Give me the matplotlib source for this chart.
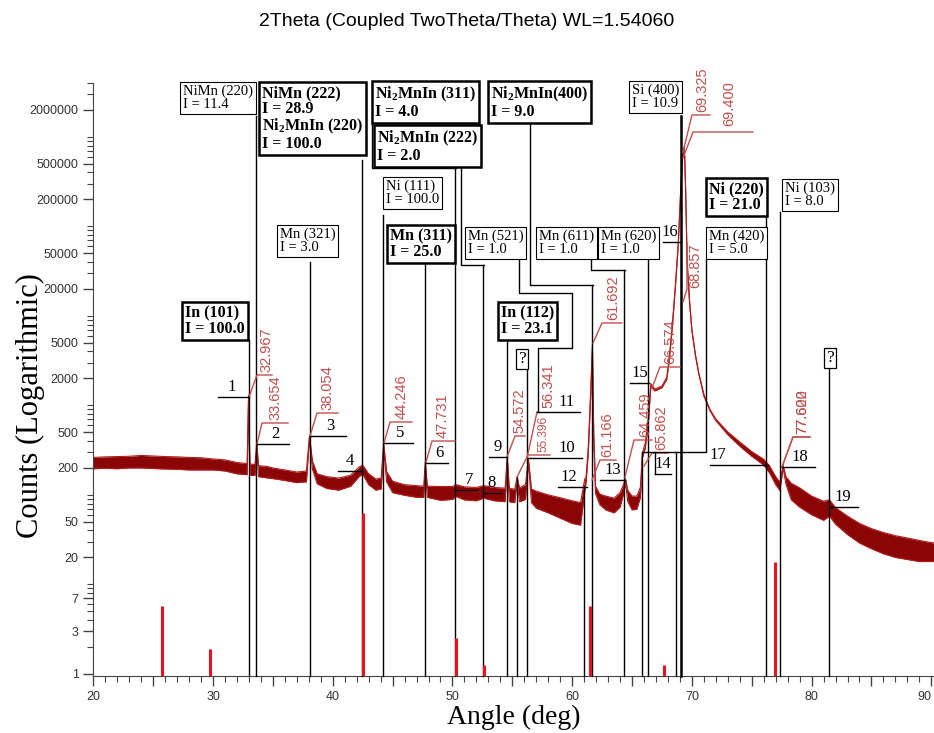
import matplotlib
matplotlib.use("Agg")
import matplotlib.pyplot as plt
from matplotlib.lines import Line2D
from matplotlib.ticker import FixedLocator, FixedFormatter, LogLocator, NullFormatter, MultipleLocator, FuncFormatter
from matplotlib.transforms import blended_transform_factory

# measured pattern, upper / lower edge of the noisy trace (2theta in deg, counts)
angle = [20.0, 21.0, 22.0, 23.0, 24.0, 25.0, 26.0, 27.0, 28.0, 29.0, 30.0, 31.0, 32.0, 32.85,
         32.967, 33.08, 33.5, 33.654, 33.8, 34.5, 35.0, 36.0, 37.0, 37.8, 38.054, 38.3, 38.7,
         39.5, 40.5, 41.5, 42.2, 42.5, 43.0, 43.6, 44.05, 44.246, 44.5, 45.0, 46.0, 47.0, 47.6,
         47.731, 47.9, 49.0, 50.0, 50.3, 51.0, 52.0, 52.6, 53.5, 54.4, 54.572, 54.75, 55.2,
         55.396, 55.6, 56.1, 56.341, 56.6, 57.0, 58.0, 59.0, 60.0, 60.7, 61.05, 61.166, 61.35,
         61.55, 61.692, 61.8, 61.95, 62.3, 62.8, 63.5, 64.0, 64.3, 64.459, 64.65, 65.0, 65.4,
         65.7, 65.862, 66.1, 66.35, 66.574, 66.9, 67.5, 67.9, 68.1, 68.35, 68.6, 68.857, 69.05,
         69.2, 69.325, 69.4, 69.5, 69.6, 69.8, 70.0, 70.3, 70.6, 71.0, 71.5, 72.0, 73.0, 74.0,
         75.0, 76.0, 76.5, 77.0, 77.35, 77.622, 77.85, 78.3, 79.0, 80.0, 81.0, 81.5, 82.0, 83.0,
         84.0, 85.0, 86.0, 87.0, 88.0, 89.0, 90.2]
counts_hi = [262, 266, 268, 270, 276, 272, 268, 266, 262, 260, 252, 246, 230, 224,
             1300, 222, 218, 380, 212, 208, 200, 190, 180, 185, 455, 240, 172,
             160, 154, 166, 205, 215, 172, 150, 155, 380, 182, 142, 130, 127, 125,
             235, 125, 124, 124, 130, 123, 121, 127, 121, 119, 267, 118, 116,
             157, 120, 130, 257, 116, 110, 100, 93, 86, 82, 150, 160, 350,
             1500, 4730, 500, 125, 102, 97, 92, 106, 132, 150, 112, 97, 97,
             122, 290, 380, 700, 1750, 1520, 1650, 2050, 3300, 7500, 20000, 62000, 230000,
             560000, 770000, 620000, 200000, 42000, 15000, 7000, 3650, 2220, 1330, 905, 705, 505, 390,
             305, 250, 210, 160, 138, 215, 160, 135, 120, 97, 85, 88, 72, 58,
             48, 42, 38, 35, 33, 31, 29]
counts_lo = [196, 198, 196, 200, 200, 197, 195, 193, 190, 190, 190, 185, 172, 168,
             1150, 165, 165, 330, 160, 155, 152, 145, 137, 140, 420, 195, 133,
             118, 113, 125, 160, 170, 130, 113, 117, 340, 140, 106, 99, 94, 94,
             200, 94, 87, 89, 96, 88, 86, 92, 86, 84, 240, 84, 82,
             140, 84, 89, 230, 82, 71, 63, 55, 48, 46, 110, 140, 300,
             1300, 4300, 400, 104, 78, 68, 63, 73, 104, 135, 84, 68, 69,
             94, 260, 330, 600, 1650, 1450, 1580, 1950, 3100, 7000, 19000, 60000, 220000,
             540000, 750000, 600000, 190000, 40000, 14500, 6800, 3550, 2180, 1270, 875, 675, 470, 350,
             270, 215, 175, 130, 112, 200, 133, 88, 73, 60, 52, 58, 47, 36,
             29, 25, 22, 20, 19, 18, 18]

# reference stick pattern (red bars)
stick_angle = [25.78, 29.78, 42.50, 50.28, 52.64, 61.47, 67.70, 76.95]
stick_counts = [5.7, 1.9, 63, 2.5, 1.25, 5.8, 1.25, 17.6]

# phase reference positions (black lines)
ref_angle = [32.97, 33.63, 38.06, 42.45, 44.22, 47.70, 50.20, 52.58, 54.52, 55.36, 56.20,
             61.00, 61.62, 64.33, 65.80, 66.37, 68.67, 69.10, 76.22, 77.37, 81.48]

y_ticks = [2000000, 500000, 200000, 50000, 20000, 5000, 2000, 500, 200, 50, 20, 7, 3, 1]
y_tick_labels = [str(v) for v in y_ticks]

W, H = 934, 733
AX_L, AX_R, AX_T, AX_B = 93.3, 933.7, 83.0, 676.0
RED = "#c0504d"

plt.rcParams["mathtext.fontset"] = "custom"
plt.rcParams["mathtext.rm"] = "Liberation Serif"
plt.rcParams["mathtext.it"] = "Liberation Serif:italic"
plt.rcParams["mathtext.bf"] = "Liberation Serif:bold"

fig = plt.figure(figsize=(W / 100, H / 100), dpi=100)
ax = fig.add_axes([AX_L / W, 1 - AX_B / H, (AX_R - AX_L) / W, (AX_B - AX_T) / H])
ax.set_yscale("log")
ax.set_xlim(20, 90.2)
ax.set_ylim(0.947, 4.0e6)


def P(px, py):
    return px / W, 1 - py / H


def fig_line(pts, color="black", lw=1.0, zorder=5):
    xs = [p[0] / W for p in pts]
    ys = [1 - p[1] / H for p in pts]
    fig.add_artist(Line2D(xs, ys, transform=fig.transFigure, color=color, lw=lw, zorder=zorder))


# trace
ax.fill_between(angle, counts_lo, counts_hi, color="#8a0606", lw=0, zorder=2)
ax.plot(angle, counts_hi, color="#b31b1b", lw=0.8, zorder=2)
ax.plot(angle, counts_lo, color="#b31b1b", lw=0.8, zorder=2)

# sticks
ax.vlines(stick_angle, 0.947, stick_counts, color="#e8121c", lw=2.2, zorder=4)

# reference lines, top end in pixels of the figure
ref_top = [340, 116, 262, 160, 215, 262, 168, 265, 337, 477, 368,
           487, 285, 270, 452, 259, 452, 116, 212, 212, 368]
blend = blended_transform_factory(ax.transData, ax.transAxes)
for a, top in zip(ref_angle, ref_top):
    lw = 1.8 if a == 69.10 else 1.0
    ax.plot([a, a], [0, (AX_B - top) / (AX_B - AX_T)], transform=blend, color="black",
            lw=lw, zorder=3, clip_on=False)

# elbow connectors from boxes
elbows = [
    [(372, 117), (372, 168), (455.7, 168)],
    [(461, 160), (461, 265), (484.3, 265)],
    [(530, 117), (530, 285), (592.7, 285)],
    [(591, 259), (591, 270), (625.3, 270)],
    [(705.5, 259), (705.5, 452), (643.3, 452)],
    [(519, 259), (519, 293), (572, 293), (572, 348), (538, 348), (538, 412)],
    [(655, 452), (655, 474)],
]
for pts in elbows:
    fig_line(pts)

# phase boxes: text, left, top, bold
boxes = [
    ("NiMn (220)\nI = 11.4", 180, 82, False),
    ("Mn (321)\nI = 3.0", 277, 225, False),
    ("Ni (111)\nI = 100.0", 383, 177, False),
    ("Mn (521)\nI = 1.0", 465, 227, False),
    ("Mn (611)\nI = 1.0", 536, 227, False),
    ("Mn (620)\nI = 1.0", 598, 227, False),
    ("Mn (420)\nI = 5.0", 706, 227, False),
    ("Si (400)\nI = 10.9", 629, 81, False),
    ("Ni (103)\nI = 8.0", 782, 179, False),
    ("In (101)\nI = 100.0", 182, 302, True),
    ("NiMn (222)\nI = 28.9\nNi$_\\mathbf{2}$MnIn (220)\nI = 100.0", 259, 82, True),
    ("Ni$_\\mathbf{2}$MnIn (311)\nI = 4.0", 372, 82, True),
    ("Ni$_\\mathbf{2}$MnIn (222)\nI = 2.0", 374, 126, True),
    ("Ni$_\\mathbf{2}$MnIn(400)\nI = 9.0", 488, 82, True),
    ("Mn (311)\nI = 25.0", 387, 225, True),
    ("In (112)\nI = 23.1", 498, 302, True),
    ("Ni (220)\nI = 21.0", 706, 178, True),
]
for text, left, top, bold in boxes:
    fig.text(*P(left + 3, top + 3), text, ha="left", va="top",
             family="Liberation Serif", fontsize=11.5 if bold else 10.5,
             fontweight="bold" if bold else "normal", linespacing=1.0, zorder=6,
             bbox=dict(boxstyle="square,pad=0.18", fc="white", ec="black",
                       lw=1.8 if bold else 0.8))

# unidentified peaks
for left, top in [(516, 349), (824, 348)]:
    fig.text(*P(left + 2, top + 2), "?", ha="left", va="top", family="Liberation Serif",
             fontsize=12.5, zorder=6,
             bbox=dict(boxstyle="square,pad=0.12", fc="white", ec="black", lw=0.9))

# peak index labels: text, underline x0, x1, y, text x
index_labels = [
    ("1", 218, 249, 397, 232), ("2", 257, 289, 444, 275), ("3", 310, 346, 436, 330),
    ("4", 338, 362, 471, 350), ("5", 383, 413, 443, 400), ("6", 426, 448, 463, 439),
    ("7", 456, 477, 490, 469), ("8", 484, 502, 493, 492), ("9", 489, 507, 457, 498),
    ("10", 528, 582, 458, 567), ("11", 537, 580, 412, 567), ("12", 558, 587, 487, 569),
    ("13", 600, 625, 480, 613), ("14", 655, 671, 474, 663), ("15", 630, 649, 383, 640),
    ("16", 663, 681, 242, 670), ("17", 710, 768, 465, 718), ("18", 782, 815, 467, 800),
    ("19", 830, 858, 507, 843),
]
for text, x0, x1, y, xt in index_labels:
    fig_line([(x0, y), (x1, y)])
    fig.text(*P(xt, y - 2), text, ha="center", va="bottom", family="Liberation Serif",
             fontsize=12, zorder=6)

# peak position labels: text, leader points, text x, text bottom, size
peak_labels = [
    ("32.967", [(249, 397), (257, 375), (272, 375)], 266, 372, 10.5),
    ("33.654", [(257, 444), (262, 423), (288, 423)], 275, 420, 10.5),
    ("38.054", [(310, 436), (317, 413), (338, 413)], 327, 410, 10.5),
    ("44.246", [(384, 443), (390, 422), (412, 422)], 402, 419, 10.5),
    ("47.731", [(426, 462), (432, 441), (455, 441)], 443, 438, 10.5),
    ("54.572", [(507, 457), (515, 436), (525, 436)], 519, 433, 10.5),
    ("55.396", [(517, 477), (528, 455), (550, 455)], 543, 452, 8.5),
    ("56.341", [(527, 458), (537, 412)], 548, 408, 10.5),
    ("61.166", [(592, 480), (600, 460), (616, 460)], 607, 457, 10.5),
    ("61.692", [(593, 343), (602, 323), (622, 323)], 613, 320, 10.5),
    ("64.459", [(625, 477), (634, 440), (652, 440)], 645, 437, 10.5),
    ("65.862", [(644, 466), (652, 453), (668, 453)], 661, 450, 10.5),
    ("66.574", [(652, 388), (660, 367), (680, 367)], 670, 364, 10.5),
    ("68.857", [(683, 302), (687, 289), (687, 243)], 695, 288, 10.5),
    ("69.325", [(683, 152), (692, 115), (710, 115)], 702, 112, 10.5),
    ("69.400", [(683, 158), (693, 132), (753, 132)], 729, 126, 10.5),
    ("77.600", [(782, 467), (793, 437), (810, 437)], 802, 434, 10.5),
    ("77.622", [(782, 467), (793, 437), (810, 437)], 802, 434, 10.5),
]
for text, pts, xt, yb, size in peak_labels:
    fig_line(pts, color=RED, lw=1.0, zorder=4)
    fig.text(*P(xt, yb), text, rotation=90, ha="center", va="bottom", color=RED,
             family="Liberation Sans", fontsize=size, zorder=6)

# axes styling
for side in ("top", "right"):
    ax.spines[side].set_visible(False)
for side in ("left", "bottom"):
    ax.spines[side].set_color("#444444")
ax.yaxis.set_major_locator(FixedLocator(y_ticks))
ax.yaxis.set_major_formatter(FixedFormatter(y_tick_labels))
ax.yaxis.set_minor_locator(LogLocator(base=10, subs=range(1, 10), numticks=50))
ax.yaxis.set_minor_formatter(NullFormatter())
ax.xaxis.set_major_locator(MultipleLocator(5))
ax.xaxis.set_minor_locator(MultipleLocator(1))
ax.xaxis.set_major_formatter(FuncFormatter(lambda v, p: f"{v:.0f}" if round(v) % 10 == 0 else ""))
ax.tick_params(which="major", length=7, width=1, color="#444444", labelsize=9,
               labelcolor="#333333", direction="out")
ax.tick_params(which="minor", length=4, width=0.8, color="#444444", direction="out")
fig.canvas.draw()
for lab in ax.get_xticklabels() + ax.get_yticklabels():
    lab.set_family("Liberation Sans")
for lab in ax.get_xticklabels():
    if lab.get_text() == "90":
        lab.set_horizontalalignment("right")

fig.text(*P(467, 22), "2Theta (Coupled TwoTheta/Theta) WL=1.54060", ha="center", va="center",
         family="Liberation Sans", fontsize=14)
fig.text(*P(514, 717), "Angle (deg)", ha="center", va="center", family="Liberation Serif",
         fontsize=20)
fig.text(*P(30, 406), "Counts (Logarithmic)", ha="center", va="center", rotation=90,
         family="Liberation Serif", fontsize=22)

fig.savefig("out.png", dpi=100)
